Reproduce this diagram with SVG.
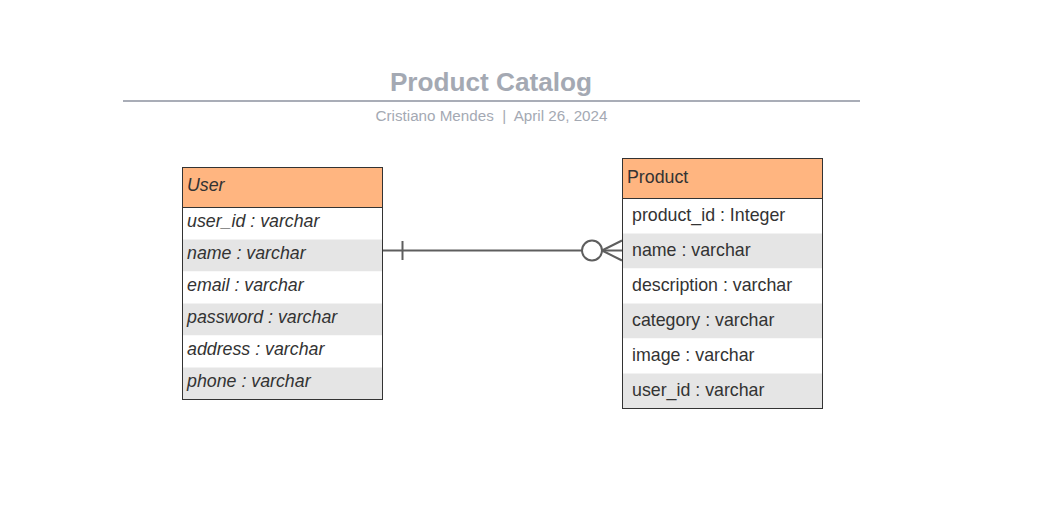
<svg xmlns="http://www.w3.org/2000/svg" width="1037" height="531" viewBox="0 0 1037 531">
<style>
.t{font-family:"Liberation Sans",Arial,sans-serif;fill:#333;font-size:17.8px}
.i{font-style:italic}
.hd{fill:#ffb580}
.g{fill:#e5e5e5}
.w{fill:#fff}
.bx{fill:none;stroke:#333;stroke-width:1}
.ln{fill:none;stroke:#333;stroke-width:1}
.c{fill:none;stroke:#5e5e5e;stroke-width:2}
</style>
<rect width="1037" height="531" fill="#fff"/>
<g id="title">
<text x="491" y="91" text-anchor="middle" font-family="Liberation Sans,Arial,sans-serif" font-weight="bold" font-size="26.2" fill="#a4a9b3">Product Catalog</text>
<line x1="123" y1="101" x2="860" y2="101" stroke="#a9adb7" stroke-width="2"/>
<text x="491.5" y="121" text-anchor="middle" font-family="Liberation Sans,Arial,sans-serif" font-size="15.2" fill="#a4a9b3" xml:space="preserve">Cristiano Mendes  |  April 26, 2024</text>
</g>
<g id="connectors">
<line class="c" x1="382" y1="250.5" x2="582" y2="250.5"/>
<line class="c" x1="402.5" y1="241" x2="402.5" y2="260"/>
<circle class="c" cx="592" cy="250.5" r="10"/>
<line class="c" x1="602" y1="250.5" x2="622" y2="250.5"/>
<line class="c" x1="602" y1="250.5" x2="622" y2="240.5"/>
<line class="c" x1="602" y1="250.5" x2="622" y2="260.5"/>
</g>
<g id="user">
<rect class="hd" x="182.5" y="167.5" width="200" height="40"/>
<rect class="w" x="182.5" y="207.5" width="200" height="32"/>
<rect class="g" x="182.5" y="239.5" width="200" height="32"/>
<rect class="w" x="182.5" y="271.5" width="200" height="32"/>
<rect class="g" x="182.5" y="303.5" width="200" height="32"/>
<rect class="w" x="182.5" y="335.5" width="200" height="32"/>
<rect class="g" x="182.5" y="367.5" width="200" height="32"/>
<line class="ln" x1="182.5" y1="207.5" x2="382.5" y2="207.5"/>
<rect class="bx" x="182.5" y="167.5" width="200" height="232"/>
<text class="t i" x="187" y="191">User</text>
<text class="t i" x="187" y="227">user_id : varchar</text>
<text class="t i" x="187" y="259">name : varchar</text>
<text class="t i" x="187" y="291">email : varchar</text>
<text class="t i" x="187" y="323">password : varchar</text>
<text class="t i" x="187" y="355">address : varchar</text>
<text class="t i" x="187" y="387">phone : varchar</text>
</g>
<g id="product">
<rect class="hd" x="622.5" y="158.5" width="200" height="40"/>
<rect class="w" x="622.5" y="198.5" width="200" height="35"/>
<rect class="g" x="622.5" y="233.5" width="200" height="35"/>
<rect class="w" x="622.5" y="268.5" width="200" height="35"/>
<rect class="g" x="622.5" y="303.5" width="200" height="35"/>
<rect class="w" x="622.5" y="338.5" width="200" height="35"/>
<rect class="g" x="622.5" y="373.5" width="200" height="35"/>
<line class="ln" x1="622.5" y1="198.5" x2="822.5" y2="198.5"/>
<rect class="bx" x="622.5" y="158.5" width="200" height="250"/>
<text class="t" x="627" y="182.5">Product</text>
<text class="t" x="632" y="221">product_id : Integer</text>
<text class="t" x="632" y="256">name : varchar</text>
<text class="t" x="632" y="291">description : varchar</text>
<text class="t" x="632" y="326">category : varchar</text>
<text class="t" x="632" y="361">image : varchar</text>
<text class="t" x="632" y="396">user_id : varchar</text>
</g>
</svg>
